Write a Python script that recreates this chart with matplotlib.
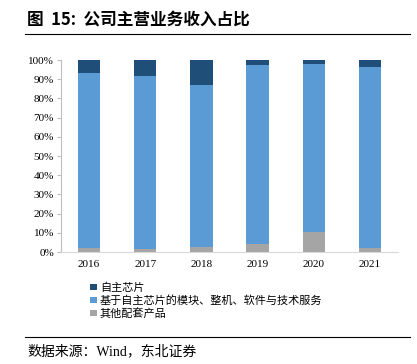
import matplotlib.pyplot as plt
import numpy as np

plt.rcParams['font.family'] = ['Liberation Serif', 'Noto Sans CJK SC']

years = ['2016', '2017', '2018', '2019', '2020', '2021']
own_chip = [6.6, 8.1, 12.8, 2.6, 2.1, 3.4]
modules = [91.1, 90.5, 84.6, 93.0, 87.5, 94.5]
others = [2.3, 1.4, 2.6, 4.4, 10.4, 2.1]
labels = ['自主芯片', '基于自主芯片的模块、整机、软件与技术服务', '其他配套产品']
colors = ['#1f4e79', '#5b9bd5', '#a5a5a5']

fig = plt.figure(figsize=(4.17, 3.64), dpi=100)
ax = fig.add_axes([61 / 417, 1 - 252 / 364, 337 / 417, 192 / 364])

x = np.arange(len(years))
w = 0.4
b1 = ax.bar(x, others, w, color=colors[2], label=labels[2])
b2 = ax.bar(x, modules, w, bottom=others, color=colors[1], label=labels[1])
bottom2 = np.array(others) + np.array(modules)
b3 = ax.bar(x, own_chip, w, bottom=bottom2, color=colors[0], label=labels[0])

ax.set_xlim(-0.5, len(years) - 0.5)
ax.set_ylim(0, 100)
ax.set_yticks(np.arange(0, 101, 10))
ax.set_yticklabels([f'{v}%' for v in range(0, 101, 10)], fontsize=8)
ax.set_xticks(x)
ax.set_xticklabels(years, fontsize=8)
for s in ['top', 'right']:
    ax.spines[s].set_visible(False)
ax.spines['left'].set_color('#bfbfbf')
ax.spines['bottom'].set_color('#d9d9d9')
ax.tick_params(axis='y', length=3, color='#bfbfbf', pad=2)
ax.tick_params(axis='x', length=0, pad=6)

leg = fig.legend([b3, b2, b1], labels, loc='upper left',
                 bbox_to_anchor=(86 / 417, 1 - 278 / 364), frameon=False,
                 prop={'family': ['Noto Sans CJK SC'], 'size': 8},
                 handlelength=0.55, handleheight=0.55, handletextpad=0.3,
                 labelspacing=0.2, borderaxespad=0)

fig.text(27 / 417, 1 - 20 / 364, '图  15:  公司主营业务收入占比', fontsize=12,
         fontweight='bold', va='center', family=['Noto Sans CJK SC'])
fig.add_artist(plt.Line2D([25 / 417, 410 / 417], [1 - 34 / 364] * 2,
                          color='black', linewidth=0.8))
fig.add_artist(plt.Line2D([25 / 417, 410 / 417], [1 - 337 / 364] * 2,
                          color='black', linewidth=0.8))
fig.text(27 / 417, 1 - 351 / 364, '数据来源：Wind，东北证券', fontsize=10,
         va='center')

fig.savefig('out.png', dpi=100)
